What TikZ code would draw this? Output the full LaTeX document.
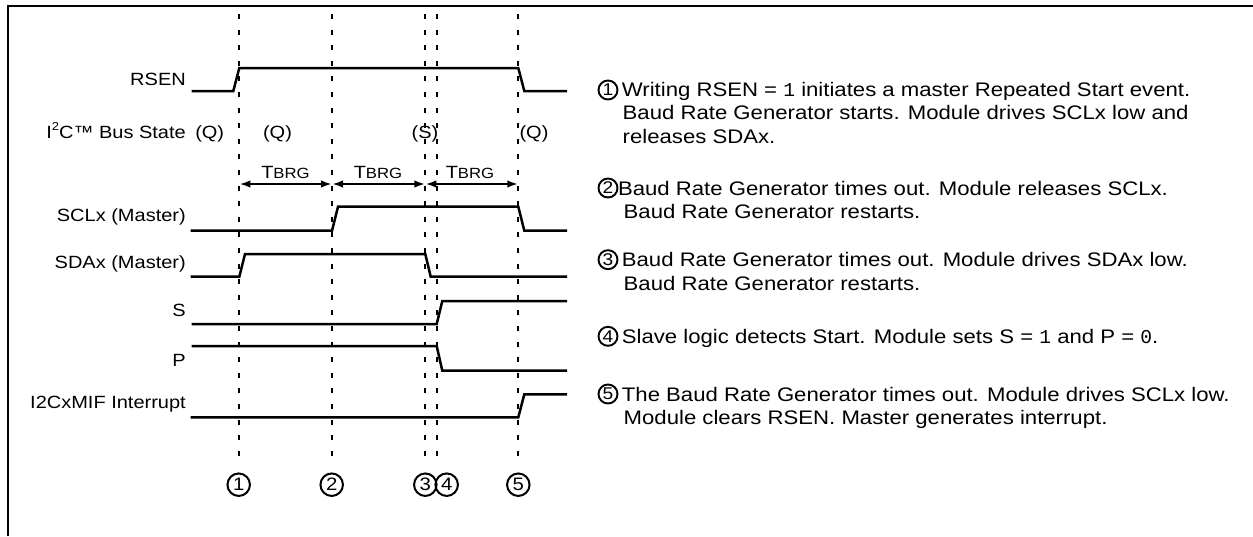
\documentclass[tikz,border=0pt]{standalone}
\usepackage{fontspec}
\setmainfont{Liberation Sans}
\newfontfamily\lblfont[FakeStretch=1.13]{Liberation Sans}
\newfontfamily\cmono[FakeStretch=1.0]{Liberation Mono}
\usetikzlibrary{arrows.meta}
\tikzset{
  sig/.style={line width=2.5pt, line join=miter},
  guide/.style={line width=2.2pt, dash pattern=on 5pt off 10.6pt},
  frameline/.style={line width=2.2pt},
  lbl/.style={font=\lblfont\fontsize{17.7}{20}\selectfont, anchor=base east, inner sep=0pt},
  state/.style={font=\lblfont\fontsize{17.7}{20}\selectfont, anchor=base, inner sep=0pt},
  tbrg/.style={font=\lblfont\fontsize{17.7}{20}\selectfont, anchor=base, inner sep=0pt},
  dim/.style={line width=2.2pt, {Latex[length=11pt,width=7.5pt]}-{Latex[length=11pt,width=7.5pt]}},
  bignum/.style={circle, draw, line width=2pt, minimum size=22.5pt, inner sep=0pt, font=\lblfont\fontsize{18}{18}\selectfont},
  smallnum/.style={circle, draw, line width=1.9pt, minimum size=19pt, inner sep=0pt, font=\lblfont\fontsize{17}{17}\selectfont},
  note/.style={font=\lblfont\fontsize{19.6}{22}\selectfont, anchor=base west, inner sep=0pt},
}
\newcommand{\Tbrg}{T{\fontsize{14.8}{16}\selectfont BRG}}
\begin{document}
\begin{tikzpicture}[x=1pt,y=-1pt]
\useasboundingbox (0,0) rectangle (1253,536);
% frame
\coordinate (fbl) at (8.3,536);
\coordinate (ftl) at (8.3,6);
\coordinate (ftr) at (1253,6);
\draw[frameline] (fbl) -- (ftl) -- (ftr);

% guide lines
\foreach \n/\x in {1/239.3,2/332,3/425.3,4/436.7,5/518.3}{
  \coordinate (gt\n) at (\x,14);
  \coordinate (gb\n) at (\x,466);
  \draw[guide] (gt\n) -- (gb\n);
}

% labels
\node[lbl] (lrsen) at (186,85) {RSEN};
\node[lbl] (lbus) at (186,138) {I\raisebox{0.42em}{\fontsize{11.5}{12}\selectfont 2}C™ Bus State};
\node[lbl] (lscl) at (186,221.3) {SCLx (Master)};
\node[lbl] (lsda) at (186,268) {SDAx (Master)};
\node[lbl] (ls) at (186,316.3) {S};
\node[lbl] (lp) at (186,366.3) {P};
\node[lbl] (lint) at (186,408) {I2CxMIF Interrupt};

% bus states
\node[state] (bs1) at (209.7,138) {(Q)};
\node[state] (bs2) at (277.5,138) {(Q)};
\node[state] (bs3) at (425,138) {(S)};
\node[state] (bs4) at (534,138) {(Q)};

% TBRG
\node[tbrg] (tb1) at (285.5,178) {\Tbrg};
\node[tbrg] (tb2) at (378,178) {\Tbrg};
\node[tbrg] (tb3) at (470,178) {\Tbrg};
\coordinate (a1) at (239.3,184);
\coordinate (a2) at (332,184);
\coordinate (a3) at (425.3,184);
\coordinate (a4) at (518.3,184);
\draw[dim] (a1) -- (a2);
\draw[dim] (a2) -- (a3);
\draw[dim] (a3) -- (a4);

% RSEN
\coordinate (r0) at (191.5,91);
\coordinate (r1) at (233.3,91);
\coordinate (r2) at (239.3,68);
\coordinate (r3) at (518.3,68);
\coordinate (r4) at (524.3,91);
\coordinate (r5) at (567,91);
\draw[sig] (r0) -- (r1) -- (r2) -- (r3) -- (r4) -- (r5);

% SCLx
\coordinate (c0) at (190.7,230.7);
\coordinate (c1) at (332,230.7);
\coordinate (c2) at (338,206.7);
\coordinate (c3) at (518.3,206.7);
\coordinate (c4) at (524.3,230.7);
\coordinate (c5) at (567,230.7);
\draw[sig] (c0) -- (c1) -- (c2) -- (c3) -- (c4) -- (c5);

% SDAx
\coordinate (d0) at (190.7,276.7);
\coordinate (d1) at (239.3,276.7);
\coordinate (d2) at (245,254);
\coordinate (d3) at (425.3,254);
\coordinate (d4) at (430.7,276.7);
\coordinate (d5) at (567,276.7);
\draw[sig] (d0) -- (d1) -- (d2) -- (d3) -- (d4) -- (d5);

% S
\coordinate (s0) at (191.5,324);
\coordinate (s1) at (436.7,324);
\coordinate (s2) at (442.3,301);
\coordinate (s3) at (567,301);
\draw[sig] (s0) -- (s1) -- (s2) -- (s3);

% P
\coordinate (p0) at (191.5,346);
\coordinate (p1) at (436.7,346);
\coordinate (p2) at (442.3,370.7);
\coordinate (p3) at (567,370.7);
\draw[sig] (p0) -- (p1) -- (p2) -- (p3);

% Interrupt
\coordinate (i0) at (190.7,417.3);
\coordinate (i1) at (518.3,417.3);
\coordinate (i2) at (524.3,394.3);
\coordinate (i3) at (567,394.3);
\draw[sig] (i0) -- (i1) -- (i2) -- (i3);

% bottom numbers
\node[bignum] (n1) at (238.7,484.7) {1};
\node[bignum] (n2) at (331.7,484.7) {2};
\node[bignum] (n3) at (425.3,484.7) {3};
\node[bignum] (n4) at (446.7,484.7) {4};
\node[bignum] (n5) at (518.3,484.7) {5};

% notes
\node[smallnum] (m1) at (608,90) {1};
\node[note] (t1a) at (621.7,96) {Writing RSEN = {\cmono 1} initiates a master Repeated Start event.};
\node[note] (t1b) at (622.5,119.5) {Baud Rate Generator starts. Module drives SCLx low and};
\node[note] (t1c) at (622.5,143) {releases SDAx.};

\node[smallnum] (m2) at (608,188) {2};
\node[note] (t2a) at (617.8,195) {Baud Rate Generator times out. Module releases SCLx.};
\node[note] (t2b) at (623.5,218.5) {Baud Rate Generator restarts.};

\node[smallnum] (m3) at (608,259.7) {3};
\node[note] (t3a) at (621.7,266.7) {Baud Rate Generator times out. Module drives SDAx low.};
\node[note] (t3b) at (623.5,290.2) {Baud Rate Generator restarts.};

\node[smallnum] (m4) at (608,336.3) {4};
\node[note] (t4a) at (621.7,343.3) {Slave logic detects Start. Module sets S = {\cmono 1} and P = {\cmono 0}.};

\node[smallnum] (m5) at (608,394) {5};
\node[note] (t5a) at (621.7,401) {The Baud Rate Generator times out. Module drives SCLx low.};
\node[note] (t5b) at (623.5,424.5) {Module clears RSEN. Master generates interrupt.};
\end{tikzpicture}
\end{document}
